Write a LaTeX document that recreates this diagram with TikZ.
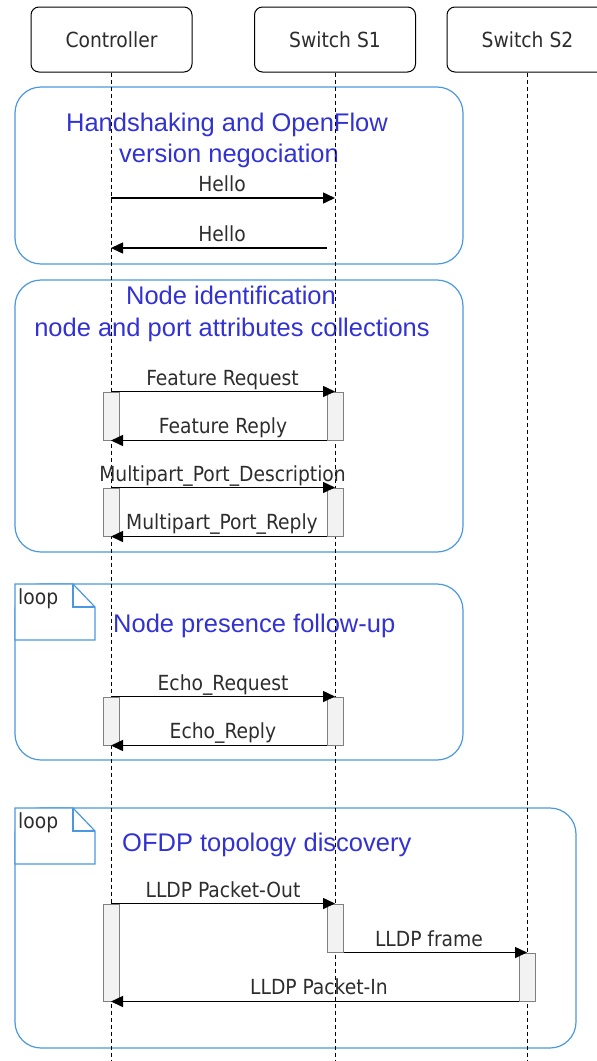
\documentclass[tikz,border=0pt]{standalone}
\usepackage{fontspec}
\newfontfamily\labfont{DejaVu Sans Condensed}
\newfontfamily\ttlfont{Liberation Sans}
\usetikzlibrary{arrows.meta}
\definecolor{grpblue}{RGB}{74,152,224}
\definecolor{ttlblue}{RGB}{50,50,210}
\definecolor{txtgray}{RGB}{45,45,45}
\definecolor{actfill}{RGB}{242,242,242}
\definecolor{actdraw}{RGB}{128,128,128}
\begin{document}
\begin{tikzpicture}[x=1pt,y=-1pt,
  actor/.style={draw=black, line width=1pt, rounded corners=8pt, fill=white,
    minimum width=161pt, minimum height=65pt, inner sep=0pt, text=txtgray,
    font=\labfont\fontsize{20.8}{25}\selectfont},
  lifeline/.style={black, line width=1pt, dash pattern=on 4pt off 3pt},
  group/.style={draw=grpblue, line width=1.2pt, rounded corners=26pt},
  act/.style={draw=actdraw, fill=actfill, line width=1pt, minimum width=16pt, inner sep=0pt},
  msg/.style={black, line width=1.5pt, -{Triangle[length=12pt,width=11pt]}},
  lab/.style={font=\labfont\fontsize{20.8}{25}\selectfont, text=txtgray, anchor=base, inner sep=0pt},
  ttl/.style={font=\ttlfont\fontsize{25.5}{30}\selectfont, text=ttlblue, anchor=base, inner sep=0pt},
  tab/.style={draw=grpblue, line width=1.2pt, fill=white, line join=miter},
]
\clip (0,0) rectangle (597,1061);
% groups
\draw[group] (15,87) rectangle (463,264);
\draw[group] (15,280) rectangle (463,552);
\draw[group] (15,584) rectangle (463,760);
\draw[group] (15,808) rectangle (576,1048);
% loop tabs
\draw[tab] (15,584) -- (73,584) -- (95,607) -- (95,640) -- (15,640) -- cycle;
\draw[tab, fill=none] (73,584) -- (73,607) -- (95,607);
\node[lab, anchor=base west] (loop1) at (18,604) {loop};
\draw[tab] (15,808) -- (73,808) -- (95,831) -- (95,864) -- (15,864) -- cycle;
\draw[tab, fill=none] (73,808) -- (73,831) -- (95,831);
\node[lab, anchor=base west] (loop2) at (18,828) {loop};
% titles
\node[ttl] (t1a) at (227,131) {Handshaking and OpenFlow};
\node[ttl] (t1b) at (229,162) {version negociation};
\node[ttl] (t2a) at (231,304) {Node identification};
\node[ttl] (t2b) at (232,336) {node and port attributes collections};
\node[ttl, anchor=base west] (t3) at (113,632) {Node presence follow-up};
\node[ttl, anchor=base west] (t4) at (122,851) {OFDP topology discovery};
% actors
\node[actor] (ctrl) at (111.5,39.5) {Controller};
\node[actor] (s1) at (335,39.5) {Switch S1};
\node[actor] (s2) at (527.5,39.5) {Switch S2};
\coordinate (ctrlend) at (111,1061);
\coordinate (s1end) at (335,1061);
\coordinate (s2end) at (527,1061);
\draw[lifeline] (ctrl.south -| ctrlend) -- (ctrlend);
\draw[lifeline] (s1.south -| s1end) -- (s1end);
\draw[lifeline] (s2.south -| s2end) -- (s2end);
% activations
\node[act, minimum height=48pt] (a1) at (111,416) {};
\node[act, minimum height=48pt] (b1) at (335,416) {};
\node[act, minimum height=48pt] (a2) at (111,512) {};
\node[act, minimum height=48pt] (b2) at (335,512) {};
\node[act, minimum height=48pt] (a3) at (111,721) {};
\node[act, minimum height=48pt] (b3) at (335,721) {};
\node[act, minimum height=97pt] (a4) at (111,952.5) {};
\node[act, minimum height=48pt] (b4) at (335,928) {};
\node[act, minimum height=48pt] (c4) at (527,977) {};
% hello messages
\coordinate (h1s) at (111,198);
\coordinate (h1e) at (335,198);
\coordinate (h2s) at (327,248);
\coordinate (h2e) at (111,248);
\draw[msg] (h1s) -- (h1e);
\node[lab] (lh1) at (222,191) {Hello};
\draw[msg] (h2s) -- (h2e);
\node[lab] (lh2) at (222,241) {Hello};
% node identification
\draw[msg] (a1.north) -- (b1.north);
\node[lab] (lfr) at (222.5,385) {Feature Request};
\draw[msg] (b1.south west) -- (a1.south);
\node[lab] (lfp) at (223,433) {Feature Reply};
\draw[msg] (a2.north) -- (b2.north);
\node[lab] (lmd) at (222.5,481) {Multipart\_Port\_Description};
\draw[msg] (b2.south west) -- (a2.south);
\node[lab] (lmr) at (222,529) {Multipart\_Port\_Reply};
% echo
\draw[msg] (a3.north) -- (b3.north);
\node[lab] (ler) at (223,690) {Echo\_Request};
\draw[msg] (b3.south west) -- (a3.south);
\node[lab] (lep) at (223,738) {Echo\_Reply};
% lldp
\draw[msg] (a4.north) -- (b4.north);
\node[lab] (lpo) at (223,897) {LLDP Packet-Out};
\draw[msg] (b4.south east) -- (c4.north);
\node[lab] (lfm) at (429,946) {LLDP frame};
\draw[msg] (c4.south west) -- (a4.south);
\node[lab] (lpi) at (319,994) {LLDP Packet-In};
\end{tikzpicture}
\end{document}
